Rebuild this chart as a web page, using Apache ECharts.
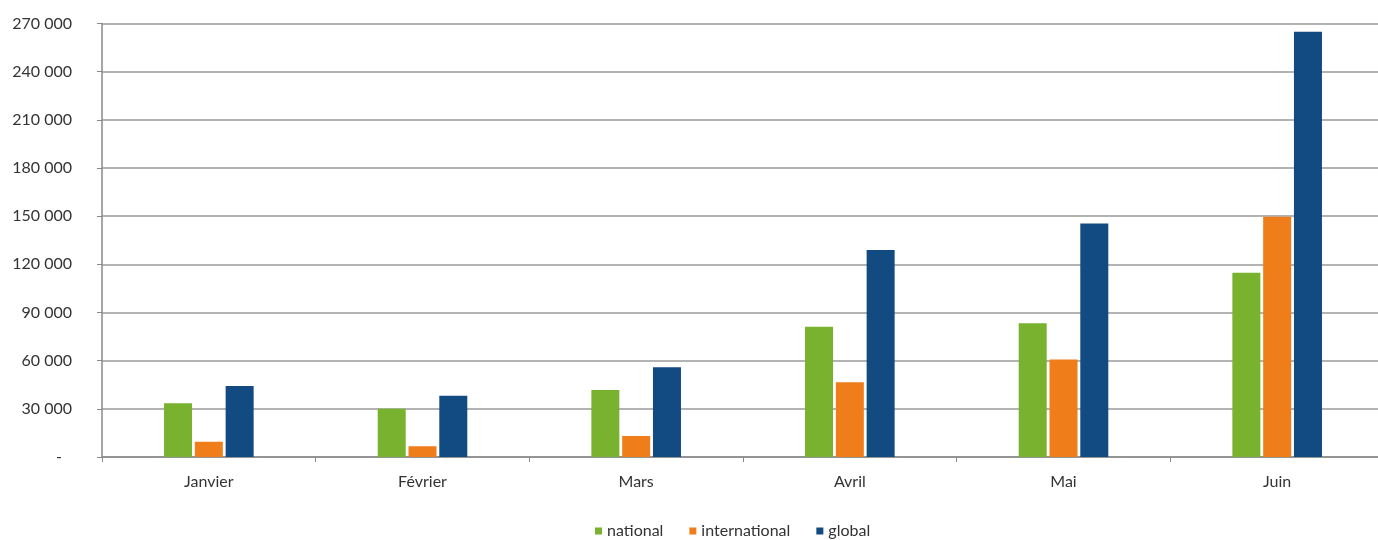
<!DOCTYPE html>
<html><head><meta charset="utf-8">
<script src="https://cdn.jsdelivr.net/npm/echarts@6/dist/echarts.min.js"></script>
<style>html,body{margin:0;padding:0;background:#fff;overflow:hidden}#c{width:1392px;height:540px}</style>
</head><body><div id="c"></div>
<script>
const categories = ['Janvier','Février','Mars','Avril','Mai','Juin'];
const seriesNames = ['national','international','global'];
const national = [33500, 30000, 41700, 81200, 83300, 114800];
const international = [9500, 6700, 13100, 46500, 60800, 149700];
const global = [44200, 38200, 55900, 128900, 145500, 264900];
const colors = ['#78b22e','#ef7d1a','#124a82'];

function fmt(v){ if(v===0) return '{z|-}'; return String(v).replace(/\B(?=(\d{3})+(?!\d))/g,' '); }

const FONT = 'Lato, sans-serif';
const chart = echarts.init(document.getElementById('c'));
chart.setOption({
  animation:false,
  color: colors,
  grid:{left:102, top:23.5, width:1282, height:433.5, containLabel:false},
  legend:{
    top:518, left:590, itemWidth:7, itemHeight:7, itemGap:26, icon:'rect',
    textStyle:{fontFamily:FONT, fontSize:16, color:'#333'},
    data: seriesNames
  },
  xAxis:{
    type:'category', data:categories,
    axisLine:{lineStyle:{color:'#8a8a8a', width:1.5}},
    axisTick:{show:true, length:5, lineStyle:{color:'#8a8a8a'}},
    axisLabel:{fontFamily:FONT, fontSize:16, color:'#333', margin:17}
  },
  yAxis:{
    type:'value', min:0, max:270000, interval:30000,
    axisLine:{show:true, lineStyle:{color:'#8a8a8a', width:1.5}},
    axisTick:{show:true, length:5, lineStyle:{color:'#8a8a8a'}},
    splitLine:{lineStyle:{color:'#9a9a9a', width:1.5}},
    axisLabel:{fontFamily:FONT, fontSize:16, color:'#333', margin:30, formatter:fmt,
      rich:{z:{fontFamily:FONT, fontSize:16, color:'#333', padding:[0,10,0,0]}}}
  },
  series:[
    {name:seriesNames[0], type:'bar', data:national, barWidth:28, barGap:'10%'},
    {name:seriesNames[1], type:'bar', data:international, barWidth:28, barGap:'10%'},
    {name:seriesNames[2], type:'bar', data:global, barWidth:28, barGap:'10%'}
  ]
});
</script></body></html>
